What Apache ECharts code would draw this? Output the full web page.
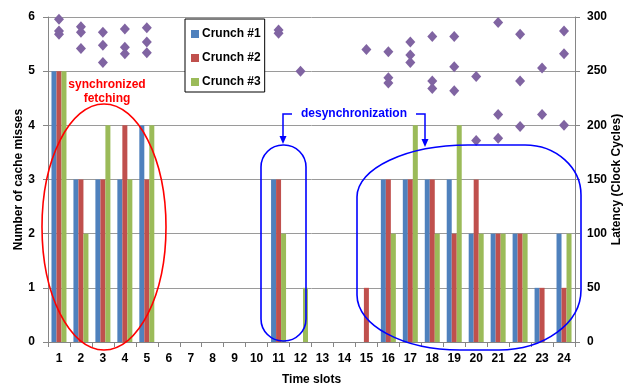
<!DOCTYPE html>
<html><head><meta charset="utf-8">
<script src="https://cdn.jsdelivr.net/npm/echarts@6/dist/echarts.min.js"></script>
<style>html,body{margin:0;padding:0;background:#fff}#c{width:626px;height:385px}</style>
</head><body><div id="c"></div>
<script>
const categories = ['1','2','3','4','5','6','7','8','9','10','11','12','13','14','15','16','17','18','19','20','21','22','23','24'];
const crunch1 = [5,3,3,3,4,0,0,0,0,0,3,0,0,0,0,3,3,3,3,2,2,2,1,2];
const crunch2 = [5,3,3,4,3,0,0,0,0,0,3,0,0,0,1,3,3,3,2,3,2,2,1,1];
const crunch3 = [5,2,4,3,4,0,0,0,0,0,2,1,0,0,0,2,4,2,4,2,2,2,0,2];
const latencyA = [298,291,286,289,290,null,null,null,null,null,288,250,null,null,270,268,277,282,282,245,295,284,253,287];
const latencyB = [287,286,274,272,277,null,null,null,null,null,285,null,null,null,null,244,265,241,254,186,210,241,210,266];
const latencyC = [284,271,258,266,267,null,null,null,null,null,null,null,null,null,null,239,258,234,232,null,188,199,null,200];
const leftTicks = [0,1,2,3,4,5,6];
const rightTicks = [0,50,100,150,200,250,300];

const FONT = "'Liberation Sans', Arial, sans-serif";
const latencyPoints = [];
[latencyA, latencyB, latencyC].forEach(arr => arr.forEach((v, i) => { if (v != null) latencyPoints.push([i, v]); }));

const chart = echarts.init(document.getElementById('c'), null, {renderer: 'canvas'});
const lbl = {color: '#000', fontWeight: 'bold', fontSize: 12, fontFamily: FONT};
const k = 0.5523;
const blueStroke = {fill: null, stroke: '#0000FF', lineWidth: 1.6};
function bez(x1, y1, c1x, c1y, c2x, c2y, x2, y2) {
  return {type: 'bezierCurve', shape: {x1: x1, y1: y1, cpx1: c1x, cpy1: c1y, cpx2: c2x, cpy2: c2y, x2: x2, y2: y2}, style: blueStroke, z: 100};
}
function ln(x1, y1, x2, y2) {
  return {type: 'line', shape: {x1: x1, y1: y1, x2: x2, y2: y2}, style: blueStroke, z: 100};
}
const bigShape = [
  ln(357, 295, 357, 197),
  bez(357, 197, 357, 197 - 52 * k, 468 - 111 * k, 145, 468, 145),
  ln(468, 145, 525, 145),
  bez(525, 145, 525 + 56 * k, 145, 581, 195 - 50 * k, 581, 195),
  ln(581, 195, 581, 290),
  bez(581, 290, 581, 290 + 60 * k, 499 + 82 * k, 350, 499, 350),
  ln(499, 350, 460, 350),
  bez(460, 350, 460 - 103 * k, 350, 357, 295 + 55 * k, 357, 295)
];

chart.setOption({
  animation: false,
  backgroundColor: '#fff',
  grid: {left: 48, right: 51, top: 17, bottom: 43, containLabel: false, outerBoundsMode: 'none'},
  legend: {
    data: ['Crunch #1','Crunch #2','Crunch #3'],
    orient: 'vertical', left: 185, top: 19,
    padding: [9, 4, 4, 6], itemGap: 12, itemWidth: 8, itemHeight: 8, icon: 'rect',
    backgroundColor: '#fff', borderColor: '#000', borderWidth: 1, borderRadius: 0,
    textStyle: {color: '#000', fontWeight: 'bold', fontSize: 12, fontFamily: FONT, padding: [0,0,0,-2]},
    selectedMode: false
  },
  xAxis: {
    type: 'category', data: categories,
    name: 'Time slots', nameLocation: 'middle', nameGap: 32, nameMoveOverlap: false,
    nameTextStyle: {color: '#000', fontWeight: 'bold', fontSize: 12, fontFamily: FONT, verticalAlign: 'top'},
    axisLine: {lineStyle: {color: '#868686'}},
    axisTick: {show: true, length: 5, lineStyle: {color: '#868686'}},
    axisLabel: Object.assign({margin: 11, interval: 0}, lbl),
    splitLine: {show: false}
  },
  yAxis: [{
    type: 'value', min: 0, max: 6, interval: 1,
    name: 'Number of cache misses', nameLocation: 'middle', nameGap: 23, nameRotate: 90, nameMoveOverlap: false,
    nameTextStyle: {color: '#000', fontWeight: 'bold', fontSize: 12, fontFamily: FONT},
    axisLine: {show: true, lineStyle: {color: '#868686'}},
    axisTick: {show: true, length: 5, lineStyle: {color: '#868686'}},
    axisLabel: Object.assign({margin: 13, customValues: leftTicks}, lbl),
    splitLine: {show: true, lineStyle: {color: '#9a9a9a', width: 1}}
  }, {
    type: 'value', min: 0, max: 300, interval: 50, position: 'right',
    name: 'Latency (Clock Cycles)', nameLocation: 'middle', nameGap: 36, nameRotate: 90, nameMoveOverlap: false,
    nameTextStyle: {color: '#000', fontWeight: 'bold', fontSize: 12, fontFamily: FONT},
    axisLine: {show: true, lineStyle: {color: '#868686'}},
    axisTick: {show: true, length: 5, lineStyle: {color: '#868686'}},
    axisLabel: Object.assign({margin: 12, customValues: rightTicks}, lbl),
    splitLine: {show: false}
  }],
  series: [
    {name: 'Crunch #1', type: 'bar', data: crunch1, barWidth: 5, barGap: '0%', itemStyle: {color: '#4F81BD'}},
    {name: 'Crunch #2', type: 'bar', data: crunch2, barWidth: 5, barGap: '0%', itemStyle: {color: '#C0504D'}},
    {name: 'Crunch #3', type: 'bar', data: crunch3, barWidth: 5, barGap: '0%', itemStyle: {color: '#9BBB59'}},
    {name: 'Latency', type: 'scatter', yAxisIndex: 1, data: latencyPoints, symbol: 'diamond', symbolSize: [10, 11], itemStyle: {color: '#8064A2', opacity: 1}, z: 5}
  ],
  graphic: [
    {type: 'ellipse', shape: {cx: 104, cy: 227, rx: 62, ry: 123}, style: {fill: null, stroke: '#FF0000', lineWidth: 1.6}, z: 100},
    {type: 'text', x: 107, y: 92, style: {text: 'synchronized\nfetching', fill: '#FF0000', font: "bold 12px 'Liberation Sans', Arial", textAlign: 'center', textVerticalAlign: 'middle', lineHeight: 14}, z: 100},
    {type: 'rect', shape: {x: 261, y: 145, width: 45, height: 196, r: 22}, style: blueStroke, z: 100},
    {type: 'text', x: 354, y: 114, style: {text: 'desynchronization', fill: '#0000FF', font: "bold 12px 'Liberation Sans', Arial", textAlign: 'center', textVerticalAlign: 'middle'}, z: 100},
    {type: 'polyline', shape: {points: [[292,114],[283,114],[283,138]]}, style: {stroke: '#0000FF', lineWidth: 1.5, fill: null}, z: 100},
    {type: 'polygon', shape: {points: [[279.5,136],[286.5,136],[283,144]]}, style: {fill: '#0000FF'}, z: 100},
    {type: 'polyline', shape: {points: [[416,114],[425,114],[425,141]]}, style: {stroke: '#0000FF', lineWidth: 1.5, fill: null}, z: 100},
    {type: 'polygon', shape: {points: [[421.5,139],[428.5,139],[425,147]]}, style: {fill: '#0000FF'}, z: 100}
  ].concat(bigShape)
});
</script></body></html>
